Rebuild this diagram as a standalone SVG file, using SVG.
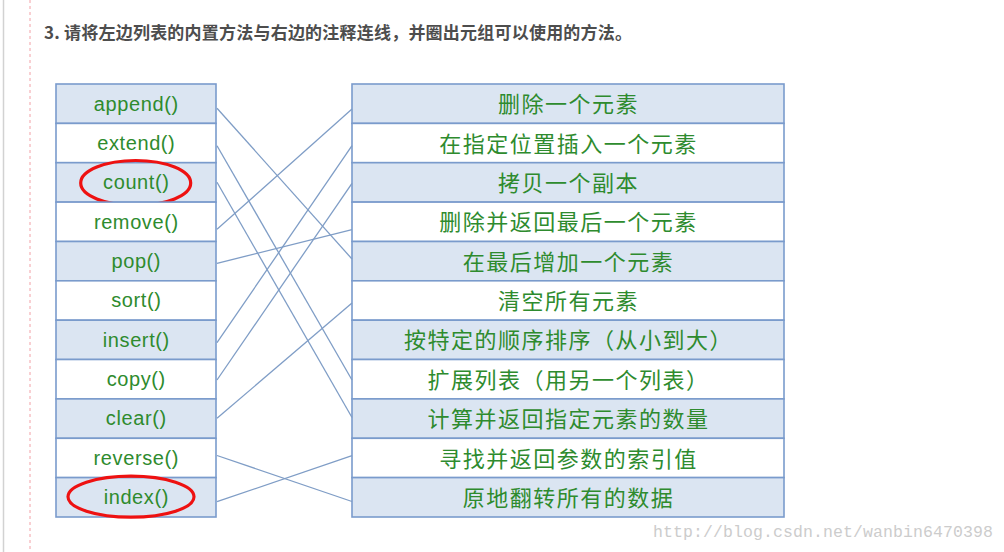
<svg xmlns="http://www.w3.org/2000/svg" width="1004" height="552" viewBox="0 0 1004 552">
<style>
.cell{stroke:#7a9bcc;stroke-width:1.6}
.sh{fill:#dbe5f2}
.wh{fill:#ffffff}
.lbl{font-family:"Liberation Sans",Arial,sans-serif;font-size:20px;fill:#2e8b2e;text-anchor:middle;letter-spacing:0.6px}
.cn{font-family:"Noto Sans CJK SC",sans-serif;font-size:22px;fill:#2e8b2e;text-anchor:middle;letter-spacing:1.5px}
.ring{fill:none;stroke:#ee1111;stroke-width:3.2}
#connectors line{stroke:#7f9dc6;stroke-width:1.3}
</style>
<rect width="1004" height="552" fill="#ffffff"/>
<line x1="3.5" y1="0" x2="3.5" y2="552" stroke="#d2d2d2" stroke-width="1.5"/>
<line x1="30" y1="0" x2="30" y2="552" stroke="#f2a0a6" stroke-width="1" stroke-dasharray="3 3"/>
<text x="44" y="39" textLength="588" font-family="'Noto Sans CJK SC',sans-serif" font-size="17" font-weight="bold" fill="#4d4d4d">3. 请将左边列表的内置方法与右边的注释连线，并圈出元组可以使用的方法。</text>

<g id="left-table">
<g id="m-append"><rect class="cell sh" x="56" y="84" width="160" height="39.4"/><text class="lbl" x="136.3" y="110.5">append()</text></g>
<g id="m-extend"><rect class="cell wh" x="56" y="123.4" width="160" height="39.3"/><text class="lbl" x="136.3" y="149.8">extend()</text></g>
<g id="m-count"><rect class="cell sh" x="56" y="162.7" width="160" height="39.4"/><text class="lbl" x="136.3" y="189.2">count()</text><ellipse class="ring" cx="135.7" cy="183" rx="55" ry="22.5"/></g>
<g id="m-remove"><rect class="cell wh" x="56" y="202.1" width="160" height="39.4"/><text class="lbl" x="136.3" y="228.6">remove()</text></g>
<g id="m-pop"><rect class="cell sh" x="56" y="241.5" width="160" height="39.3"/><text class="lbl" x="136.3" y="267.9">pop()</text></g>
<g id="m-sort"><rect class="cell wh" x="56" y="280.8" width="160" height="39.4"/><text class="lbl" x="136.3" y="307.3">sort()</text></g>
<g id="m-insert"><rect class="cell sh" x="56" y="320.2" width="160" height="39.3"/><text class="lbl" x="136.3" y="346.7">insert()</text></g>
<g id="m-copy"><rect class="cell wh" x="56" y="359.5" width="160" height="39.4"/><text class="lbl" x="136.3" y="386">copy()</text></g>
<g id="m-clear"><rect class="cell sh" x="56" y="398.9" width="160" height="39.4"/><text class="lbl" x="136.3" y="425.4">clear()</text></g>
<g id="m-reverse"><rect class="cell wh" x="56" y="438.3" width="160" height="39.3"/><text class="lbl" x="136.3" y="464.8">reverse()</text></g>
<g id="m-index"><rect class="cell sh" x="56" y="477.6" width="160" height="39.4"/><text class="lbl" x="136.3" y="504.1">index()</text><ellipse class="ring" cx="131" cy="496.7" rx="63" ry="20.5"/></g>
</g>

<g id="right-table">
<g id="d-0"><rect class="cell sh" x="352" y="84" width="432" height="39.4"/><text class="cn" x="568.5" y="112.2">删除一个元素</text></g>
<g id="d-1"><rect class="cell wh" x="352" y="123.4" width="432" height="39.3"/><text class="cn" x="568.5" y="151.5">在指定位置插入一个元素</text></g>
<g id="d-2"><rect class="cell sh" x="352" y="162.7" width="432" height="39.4"/><text class="cn" x="568.5" y="190.9">拷贝一个副本</text></g>
<g id="d-3"><rect class="cell wh" x="352" y="202.1" width="432" height="39.4"/><text class="cn" x="568.5" y="230.3">删除并返回最后一个元素</text></g>
<g id="d-4"><rect class="cell sh" x="352" y="241.5" width="432" height="39.3"/><text class="cn" x="568.5" y="269.6">在最后增加一个元素</text></g>
<g id="d-5"><rect class="cell wh" x="352" y="280.8" width="432" height="39.4"/><text class="cn" x="568.5" y="309">清空所有元素</text></g>
<g id="d-6"><rect class="cell sh" x="352" y="320.2" width="432" height="39.3"/><text class="cn" x="568.5" y="348.4">按特定的顺序排序（从小到大）</text></g>
<g id="d-7"><rect class="cell wh" x="352" y="359.5" width="432" height="39.4"/><text class="cn" x="568.5" y="387.7">扩展列表（用另一个列表）</text></g>
<g id="d-8"><rect class="cell sh" x="352" y="398.9" width="432" height="39.4"/><text class="cn" x="568.5" y="427.1">计算并返回指定元素的数量</text></g>
<g id="d-9"><rect class="cell wh" x="352" y="438.3" width="432" height="39.3"/><text class="cn" x="568.5" y="466.5">寻找并返回参数的索引值</text></g>
<g id="d-10"><rect class="cell sh" x="352" y="477.6" width="432" height="39.4"/><text class="cn" x="568.5" y="505.8">原地翻转所有的数据</text></g>
</g>

<g id="connectors">
<line x1="217" y1="108.3" x2="352" y2="259"/>
<line x1="217" y1="145.7" x2="352" y2="380"/>
<line x1="217" y1="182.3" x2="352" y2="417.5"/>
<line x1="217" y1="229.3" x2="352" y2="109"/>
<line x1="217" y1="263.3" x2="352" y2="229.7"/>
<line x1="217" y1="342.7" x2="352" y2="145.7"/>
<line x1="217" y1="380" x2="352" y2="183.3"/>
<line x1="217" y1="418.3" x2="352" y2="303"/>
<line x1="217" y1="455.5" x2="352" y2="501.5"/>
<line x1="217" y1="501.7" x2="352" y2="455.7"/>
</g>

<text x="653" y="537" textLength="340" font-family="'Liberation Mono',monospace" font-size="16.5" fill="#cccccc">http://blog.csdn.net/wanbin6470398</text>
</svg>
